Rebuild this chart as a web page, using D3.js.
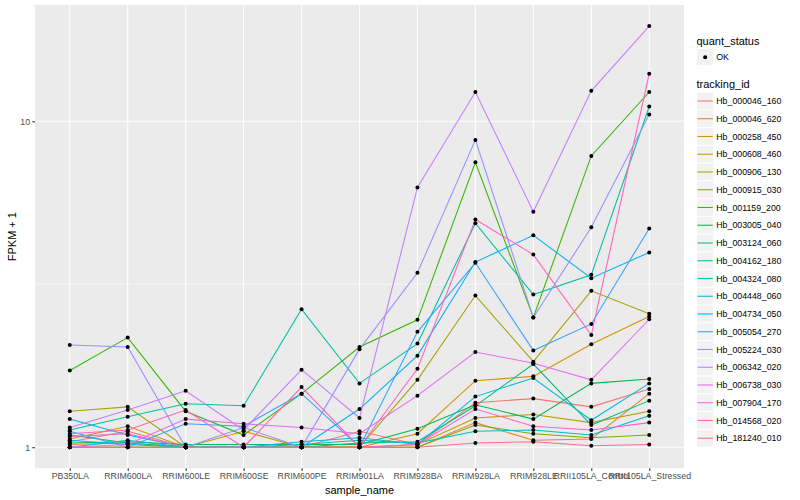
<!DOCTYPE html>
<html lang="en">
<head>
<meta charset="UTF-8">
<title>FPKM by sample</title>
<script src="https://cdn.jsdelivr.net/npm/d3@7"></script>
<style>
  body { margin: 0; background: #fff; }
  svg { font-family: "Liberation Sans", Arial, Helvetica, sans-serif; }
  .grid line { stroke: #fff; }
  .axis path { display: none; }
  .axis line { stroke: #333; stroke-width: 1.07; }
  .axis text { fill: #4d4d4d; font-size: 8.8px; }
  .series { fill: none; stroke-width: 1.07; }
</style>
</head>
<body>
<svg id="chart" width="800" height="500"></svg>
<script>
const samples = ["PB350LA", "RRIM600LA", "RRIM600LE", "RRIM600SE", "RRIM600PE", "RRIM901LA",
  "RRIM928BA", "RRIM928LA", "RRIM928LE", "RRII105LA_Control", "RRII105LA_Stressed"];

const trackingIds = ["Hb_000046_160", "Hb_000046_620", "Hb_000258_450", "Hb_000608_460",
  "Hb_000906_130", "Hb_000915_030", "Hb_001159_200", "Hb_003005_040", "Hb_003124_060",
  "Hb_004162_180", "Hb_004324_080", "Hb_004448_060", "Hb_004734_050", "Hb_005054_270",
  "Hb_005224_030", "Hb_006342_020", "Hb_006738_030", "Hb_007904_170", "Hb_014568_020",
  "Hb_181240_010"];

const hueColors = ["#F8766D", "#EA8331", "#D89000", "#C09B00", "#A3A500", "#7CAE00", "#39B600",
  "#00BB4E", "#00BF7D", "#00C1A3", "#00BFC4", "#00BAE0", "#00B0F6", "#35A2FF", "#9590FF",
  "#C77CFF", "#E76BF3", "#FA62DB", "#FF62BC", "#FF6C91"];

// FPKM + 1, one value per sample
const hb000046_160 = [1.04, 1.12, 1.00, 1.00, 1.00, 1.12, 1.02, 1.37, 1.41, 1.33, 1.51];
const hb000046_620 = [1.02, 1.03, 1.00, 1.00, 1.00, 1.00, 1.00, 1.19, 1.05, 1.06, 1.46];
const hb000258_450 = [1.06, 1.16, 1.00, 1.12, 1.00, 1.00, 1.10, 1.60, 1.65, 2.07, 2.52];
const hb000608_460 = [1.00, 1.00, 1.00, 1.00, 1.00, 1.00, 1.02, 1.23, 1.26, 1.19, 1.29];
const hb000906_130 = [1.29, 1.33, 1.00, 1.00, 1.00, 1.00, 1.61, 2.92, 1.83, 3.02, 2.57];
const hb000915_030 = [1.00, 1.00, 1.00, 1.00, 1.00, 1.00, 1.00, 1.17, 1.10, 1.07, 1.09];
const hb001159_200 = [1.72, 2.17, 1.29, 1.09, 1.46, 2.03, 2.46, 7.49, 2.50, 7.83, 12.3];
const hb003005_040 = [1.03, 1.04, 1.02, 1.02, 1.02, 1.02, 1.14, 1.35, 1.22, 1.57, 1.62];
const hb003124_060 = [1.09, 1.03, 1.00, 1.00, 1.00, 1.03, 1.04, 1.34, 1.80, 1.17, 1.39];
const hb004162_180 = [1.13, 1.24, 1.36, 1.34, 2.65, 1.57, 2.08, 4.87, 2.94, 3.38, 11.1];
const hb004324_080 = [1.05, 1.02, 1.00, 1.00, 1.02, 1.05, 1.03, 1.12, 1.13, 1.09, 1.25];
const hb004448_060 = [1.00, 1.05, 1.00, 1.00, 1.04, 1.07, 1.02, 1.43, 1.63, 1.21, 1.57];
const hb004734_050 = [1.22, 1.09, 1.00, 1.00, 1.00, 1.31, 1.91, 3.70, 4.47, 3.30, 3.96];
const hb005054_270 = [1.12, 1.00, 1.18, 1.16, 1.46, 1.00, 2.26, 3.68, 1.98, 2.39, 4.69];
const hb005224_030 = [2.06, 2.03, 1.00, 1.15, 1.00, 2.00, 3.43, 8.77, 2.50, 4.73, 10.5];
const hb006342_020 = [1.15, 1.30, 1.49, 1.13, 1.73, 1.23, 6.27, 12.3, 5.28, 12.4, 19.6];
const hb006738_030 = [1.00, 1.02, 1.22, 1.18, 1.15, 1.10, 1.44, 1.96, 1.81, 1.61, 2.47];
const hb007904_170 = [1.08, 1.10, 1.00, 1.00, 1.00, 1.00, 1.02, 1.31, 1.16, 1.13, 1.19];
const hb014568_020 = [1.10, 1.13, 1.30, 1.00, 1.53, 1.00, 1.74, 5.00, 3.90, 2.21, 14.0];
const hb181240_010 = [1.00, 1.00, 1.00, 1.00, 1.00, 1.00, 1.00, 1.03, 1.04, 1.01, 1.02];

const seriesValues = [hb000046_160, hb000046_620, hb000258_450, hb000608_460, hb000906_130,
  hb000915_030, hb001159_200, hb003005_040, hb003124_060, hb004162_180, hb004324_080,
  hb004448_060, hb004734_050, hb005054_270, hb005224_030, hb006342_020, hb006738_030,
  hb007904_170, hb014568_020, hb181240_010];

const quantStatus = ["OK"];
const yTicks = [1, 10];
const yMinorTicks = [3.1623];

const svg = d3.select("#chart");
const panel = {left: 35, right: 684, top: 5, bottom: 468.3};

const x = d3.scalePoint().domain(samples).range([panel.left, panel.right]).padding(0.6);

// log scale with ggplot's 5% expansion in log space
const ext = d3.extent(seriesValues.flat());
const lo = Math.log10(ext[0]), hi = Math.log10(ext[1]), pad = (hi - lo) * 0.05;
const y = d3.scaleLog()
    .domain([Math.pow(10, lo - pad), Math.pow(10, hi + pad)])
    .range([panel.bottom, panel.top]);

const color = d3.scaleOrdinal().domain(trackingIds).range(hueColors);

svg.append("rect")
    .attr("x", panel.left).attr("y", panel.top)
    .attr("width", panel.right - panel.left).attr("height", panel.bottom - panel.top)
    .attr("fill", "#ebebeb");

const grid = svg.append("g").attr("class", "grid");
grid.selectAll("line.minor").data(yMinorTicks).join("line")
    .attr("x1", panel.left).attr("x2", panel.right)
    .attr("y1", d => y(d)).attr("y2", d => y(d))
    .attr("stroke-width", 0.53);
grid.selectAll("line.ymajor").data(yTicks).join("line")
    .attr("x1", panel.left).attr("x2", panel.right)
    .attr("y1", d => y(d)).attr("y2", d => y(d))
    .attr("stroke-width", 1.07);
grid.selectAll("line.xmajor").data(samples).join("line")
    .attr("x1", d => x(d)).attr("x2", d => x(d))
    .attr("y1", panel.top).attr("y2", panel.bottom)
    .attr("stroke-width", 1.07);

const series = trackingIds.map((id, i) => ({
  id: id,
  points: samples.map((s, j) => ({sample: s, value: seriesValues[i][j]}))
}));

const line = d3.line().x(d => x(d.sample)).y(d => y(d.value));

svg.append("g").selectAll("path").data(series).join("path")
    .attr("class", "series")
    .attr("stroke", d => color(d.id))
    .attr("d", d => line(d.points));

svg.append("g").selectAll("circle").data(series.flatMap(d => d.points)).join("circle")
    .attr("cx", d => x(d.sample))
    .attr("cy", d => y(d.value))
    .attr("r", 2)
    .attr("fill", "#000");

svg.append("g")
    .attr("class", "axis")
    .attr("transform", `translate(${panel.left},0)`)
    .call(d3.axisLeft(y).tickValues(yTicks).tickFormat(d3.format("d")).tickSize(2.75).tickPadding(2.2));

svg.append("g")
    .attr("class", "axis")
    .attr("transform", `translate(0,${panel.bottom})`)
    .call(d3.axisBottom(x).tickSize(2.75).tickPadding(2.2));

svg.append("text")
    .attr("x", (panel.left + panel.right) / 2).attr("y", 494)
    .attr("text-anchor", "middle").attr("font-size", 11)
    .text("sample_name");

svg.append("text")
    .attr("transform", `translate(15.5,${(panel.top + panel.bottom) / 2}) rotate(-90)`)
    .attr("text-anchor", "middle").attr("font-size", 11)
    .text("FPKM + 1");

// legends
const legend = svg.append("g").attr("transform", "translate(696.5,0)");
const keyW = 17.28, keyStep = 17.75;

legend.append("text").attr("x", 0).attr("y", 44.5).attr("font-size", 11).text("quant_status");
const qs = legend.selectAll("g.qs").data(quantStatus).join("g")
    .attr("transform", (d, i) => `translate(0,${48.5 + i * keyStep})`);
qs.append("rect").attr("width", keyW).attr("height", keyW)
    .attr("fill", "#f2f2f2").attr("stroke", "#fff");
qs.append("circle").attr("cx", keyW / 2).attr("cy", keyW / 2).attr("r", 2).attr("fill", "#000");
qs.append("text").attr("x", keyW + 2.5).attr("y", keyW / 2 + 3.1).attr("font-size", 8.8).text(d => d);

legend.append("text").attr("x", 0).attr("y", 88).attr("font-size", 11).text("tracking_id");
const tk = legend.selectAll("g.tk").data(trackingIds).join("g")
    .attr("transform", (d, i) => `translate(0,${92.1 + i * keyStep})`);
tk.append("rect").attr("width", keyW).attr("height", keyStep)
    .attr("fill", "#f2f2f2").attr("stroke", "#fff");
tk.append("line")
    .attr("x1", 1).attr("x2", keyW - 1)
    .attr("y1", keyStep / 2).attr("y2", keyStep / 2)
    .attr("stroke", d => color(d)).attr("stroke-width", 1.07);
tk.append("text").attr("x", keyW + 2.5).attr("y", keyStep / 2 + 3.1).attr("font-size", 8.8).text(d => d);
</script>
</body>
</html>
